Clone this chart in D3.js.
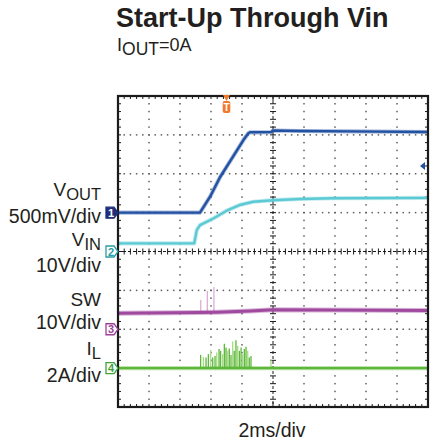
<!DOCTYPE html>
<html><head><meta charset="utf-8">
<script src="https://cdn.jsdelivr.net/npm/d3@7/dist/d3.min.js"></script>
<style>body{margin:0;background:#fff}svg{display:block;font-family:"Liberation Sans",Arial,Helvetica,sans-serif}</style>
</head><body><svg id="c" width="433" height="443"></svg>
<script>
// ---- data ----
const timeDomain = [0, 20];          // ms, 2 ms/div, 10 divisions
const divDomain = [0, 8];            // vertical divisions
const titleText = "Start-Up Through Vin";
const xLabel = "2ms/div";

// VOUT (V), 500 mV/div, ref at 5 div
const voutT = [0, 5.29, 5.94, 6.58, 7.42, 8.08, 8.41, 8.52, 9.87, 10.0, 11.74, 15.0, 20];
const voutV = [0, 0, 0.205, 0.455, 0.72, 0.93, 1.02, 1.033, 1.035, 1.056, 1.05, 1.045, 1.037];
// VIN (V), 10 V/div, ref at 4 div
const vinT = [0, 4.92, 5.08, 5.29, 6.15, 7.01, 7.87, 8.73, 10.02, 11.74, 13.87, 20];
const vinV = [2.1, 2.1, 5.5, 6.8, 8.5, 10.5, 12.0, 12.8, 13.2, 13.5, 13.7, 13.8];
// SW (V), 10 V/div, ref at 2 div
const swT = [0, 5.29, 6.37, 8.52, 10.02, 20];
const swV = [4.1, 4.3, 4.4, 4.7, 5.0, 4.8];
const swSpikeT = [5.34, 5.76, 6.19];
const swSpikeV = [7.5, 9.9, 10.9];
// IL (A), 2 A/div, ref at 1 div
const ilT = [0, 20];
const ilV = [0, 0];
const ilSpikeT = [5.33,5.51,5.68,5.83,5.98,6.11,6.26,6.37,6.52,6.62,6.75,6.86,6.97,7.08,7.18,7.29,7.40,7.50,7.61,7.72,7.83,7.94,8.04,8.15,8.26,8.37,8.47,8.58,9.87];
const ilSpikeA = [0.68,0.58,0.55,0.72,0.93,0.55,0.62,0.80,0.98,0.89,0.72,1.26,1.06,0.89,1.01,0.68,1.37,0.89,1.44,1.15,0.89,1.06,0.72,0.98,1.10,0.89,0.55,0.63,0.46];

const channels = [
  {id: "1", name: "V", sub: "OUT", scaleTxt: "500mV/div", perDiv: 0.5, ref: 5, t: voutT, v: voutV, color: "#2352a3", mark: "#1f2f7c", filled: true},
  {id: "2", name: "V", sub: "IN", scaleTxt: "10V/div", perDiv: 10, ref: 4, t: vinT, v: vinV, color: "#5ccad4", mark: "#2a9ea6", filled: false},
  {id: "3", name: "SW", sub: "", scaleTxt: "10V/div", perDiv: 10, ref: 2, t: swT, v: swV, color: "#a04a9f", mark: "#9a409b", filled: false},
  {id: "4", name: "I", sub: "L", scaleTxt: "2A/div", perDiv: 2, ref: 1, t: ilT, v: ilV, color: "#5db83a", mark: "#3da23a", filled: false}
];

// ---- layout ----
const L = 118, R = 428, T = 96, B = 407;
const svg = d3.select("#c");
const x = d3.scaleLinear().domain(timeDomain).range([L, R]);
const y = d3.scaleLinear().domain(divDomain).range([B, T]);

// title
svg.append("text").attr("x", 116).attr("y", 27).attr("font-size", 27).attr("font-weight", "bold")
  .attr("fill", "#231f20").text(titleText);
const st = svg.append("text").attr("x", 117).attr("y", 51).attr("font-size", 18).attr("fill", "#231f20");
st.append("tspan").text("I");
st.append("tspan").attr("dy", 4).attr("font-size", 17.5).text("OUT");
st.append("tspan").attr("dy", -4).text("=0A");

const g = svg.append("g");

// dotted grid
const grid = g.append("g").attr("fill", "#5e5e5e");
for (let i = 1; i < 10; i++) {
  if (i === 5) continue;
  const t = timeDomain[0] + i * 2;
  for (let j = 1; j < 40; j++) grid.append("rect").attr("x", x(t) - 0.75).attr("y", y(j / 5) - 0.75).attr("width", 1.5).attr("height", 1.5);
}
for (let i = 1; i < 8; i++) {
  if (i === 4) continue;
  for (let j = 1; j < 50; j++) grid.append("rect").attr("x", x(j * 0.4) - 0.75).attr("y", y(i) - 0.75).attr("width", 1.5).attr("height", 1.5);
}

// center lines with ticks
const cl = g.append("g").attr("stroke", "#1a1a1a").attr("stroke-width", 1);
cl.append("line").attr("x1", x(10)).attr("x2", x(10)).attr("y1", T).attr("y2", B).attr("stroke-dasharray", "3,2");
cl.append("line").attr("x1", L).attr("x2", R).attr("y1", y(4)).attr("y2", y(4)).attr("stroke-dasharray", "3,2");
for (let j = 1; j < 40; j++) cl.append("line").attr("x1", x(10) - 3).attr("x2", x(10) + 3).attr("y1", y(j / 5)).attr("y2", y(j / 5));
for (let j = 1; j < 50; j++) cl.append("line").attr("x1", x(j * 0.4)).attr("x2", x(j * 0.4)).attr("y1", y(4) - 3).attr("y2", y(4) + 3);

// edge ticks
const et = g.append("g").attr("stroke", "#1a1a1a").attr("stroke-width", 1);
for (let j = 1; j < 50; j++) {
  const len = (j === 25) ? 5 : 3;
  et.append("line").attr("x1", x(j * 0.4)).attr("x2", x(j * 0.4)).attr("y1", T).attr("y2", T + len);
  et.append("line").attr("x1", x(j * 0.4)).attr("x2", x(j * 0.4)).attr("y1", B).attr("y2", B - len);
}
for (let j = 1; j < 40; j++) {
  const len = (j === 20) ? 5 : 3;
  et.append("line").attr("x1", L).attr("x2", L + len).attr("y1", y(j / 5)).attr("y2", y(j / 5));
  et.append("line").attr("x1", R).attr("x2", R - len).attr("y1", y(j / 5)).attr("y2", y(j / 5));
}

// traces
function yv(ch, val) { return y(ch.ref + val / ch.perDiv); }
const line = d3.line();
const tr = g.append("g").attr("fill", "none").attr("stroke-linejoin", "round");
const sw = channels[2];
swSpikeT.forEach((t, i) => {
  tr.append("line").attr("x1", x(t)).attr("x2", x(t)).attr("y1", yv(sw, swV[1])).attr("y2", yv(sw, swSpikeV[i]))
    .attr("stroke", "#d8a6d5").attr("stroke-width", 1.2);
});
const il = channels[3];
ilSpikeT.forEach((t, i) => {
  tr.append("line").attr("x1", x(t)).attr("x2", x(t)).attr("y1", yv(il, 0)).attr("y2", yv(il, ilSpikeA[i]))
    .attr("stroke", i % 3 === 1 ? "#a6dc86" : "#5db83a").attr("stroke-width", 1.3);
});
channels.forEach((ch, k) => {
  const pts = ch.t.map((t, i) => [x(t), yv(ch, ch.v[i])]);
  tr.append("path").attr("d", line(pts)).attr("stroke", ch.color).attr("stroke-opacity", 0.4).attr("stroke-width", k === 2 ? 5 : 4.2);
  tr.append("path").attr("d", line(pts)).attr("stroke", ch.color).attr("stroke-width", k === 2 ? 3 : 2.4);
});

// frame
g.append("rect").attr("x", L).attr("y", T).attr("width", R - L).attr("height", B - T)
  .attr("fill", "none").attr("stroke", "#1a1a1a").attr("stroke-width", 2.2);

// trigger marker
const tx = x(7.0);
const tg = svg.append("g").attr("fill", "#f07a2c");
tg.append("path").attr("d", `M${tx - 3.5},${T - 1} L${tx + 3.5},${T - 1} L${tx},${T + 5} Z`);
tg.append("rect").attr("x", tx - 3.8).attr("y", T + 5).attr("width", 7.6).attr("height", 12).attr("rx", 2);
svg.append("text").attr("x", tx).attr("y", T + 15).attr("text-anchor", "middle").attr("font-size", 10)
  .attr("font-weight", "bold").attr("fill", "#fff").text("T");

// trigger level arrow (right)
const ly = yv(channels[0], 0.6);
svg.append("path").attr("d", `M${R - 8},${ly} L${R - 3},${ly - 4} L${R - 3},${ly + 4} Z`).attr("fill", "#2352a3");

// channel markers + labels
channels.forEach(ch => {
  const cy = y(ch.ref);
  const mg = svg.append("g");
  mg.append("path").attr("d", `M${106},${cy - 5.5} L${114},${cy - 5.5} L${118},${cy} L${114},${cy + 5.5} L${106},${cy + 5.5} Z`)
    .attr("fill", ch.filled ? ch.mark : "#fff").attr("stroke", ch.mark).attr("stroke-width", 1.3);
  mg.append("text").attr("x", 111).attr("y", cy + 4.2).attr("text-anchor", "middle").attr("font-size", 11).attr("font-weight", "bold")
    .attr("fill", ch.filled ? "#fff" : ch.mark).text(ch.id);
});
// [main baseline, subscript baseline, scale baseline]
const labelY = [[196, 200, 223], [246, 250, 272], [306, 306, 329], [355, 359, 382]];
channels.forEach((ch, i) => {
  const t1 = svg.append("text").attr("x", 101).attr("y", labelY[i][0]).attr("text-anchor", "end")
    .attr("font-size", 19).attr("fill", "#231f20");
  t1.append("tspan").text(ch.name);
  if (ch.sub) t1.append("tspan").attr("dy", labelY[i][1] - labelY[i][0]).attr("font-size", 16.5).text(ch.sub);
  svg.append("text").attr("x", 101).attr("y", labelY[i][2]).attr("text-anchor", "end")
    .attr("font-size", 19.5).attr("fill", "#231f20").text(ch.scaleTxt);
});

svg.append("text").attr("x", 272).attr("y", 437).attr("text-anchor", "middle").attr("font-size", 19.5)
  .attr("fill", "#231f20").text(xLabel);
</script></body></html>
